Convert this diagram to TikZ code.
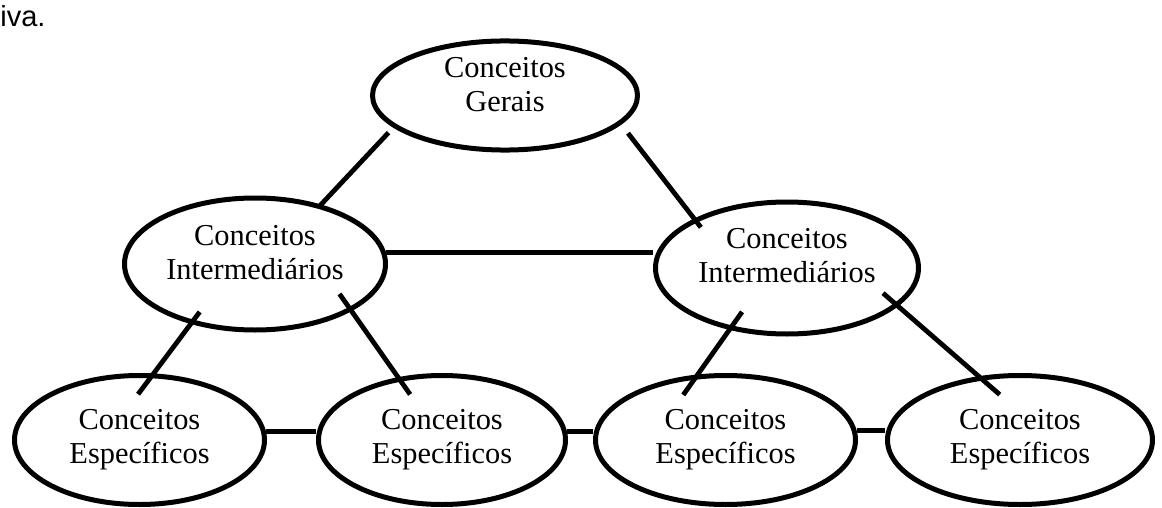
\documentclass[tikz,border=0pt]{standalone}
\usepackage{fontspec}
\setmainfont{Liberation Serif}
\newfontfamily\arialfont{Liberation Sans}
\usetikzlibrary{shapes.geometric}

\begin{document}
\begin{tikzpicture}[x=0.5pt,y=-0.5pt,
  conceito/.style={draw, ellipse, line width=2.5pt, inner sep=0pt, align=center,
    font=\fontsize{15.2}{17}\selectfont},
  ligacao/.style={line width=2.4pt}]
\useasboundingbox (0,0) rectangle (1162,508);

\node[anchor=base west, inner sep=0pt, font=\arialfont\fontsize{14.5}{17}\selectfont] (frase) at (0,27) {iva.};

\node[conceito, minimum width=132.5pt, minimum height=52pt, text depth=11.5pt] (G) at (505,95.5) {Conceitos\\Gerais};
\node[conceito, minimum width=130.5pt, minimum height=66pt, text depth=11.5pt] (IL) at (255,264) {Conceitos\\Intermediários};
\node[conceito, minimum width=131.5pt, minimum height=66pt, text depth=13pt] (IR) at (787,268) {Conceitos\\Intermediários};
\node[conceito, minimum width=125pt, minimum height=64.5pt] (B1) at (139.5,440) {Conceitos\\Específicos};
\node[conceito, minimum width=123.5pt, minimum height=64.5pt] (B2) at (442,440) {Conceitos\\Específicos};
\node[conceito, minimum width=130pt, minimum height=64.5pt] (B3) at (725.5,440) {Conceitos\\Específicos};
\node[conceito, minimum width=132.5pt, minimum height=64.5pt] (B4) at (1020,440) {Conceitos\\Específicos};

\begin{scope}[ligacao]
  \draw[shorten <=3.5pt, shorten >=-2pt] (G.196) -- (IL.42);
  \draw[shorten <=5.5pt, shorten >=-5.5pt] (G.346) -- (IR.152);
  \draw (IL.5) -- (IL.5 -| IR.west);
  \draw[shorten <=-7.5pt, shorten >=-13pt] (IL.223) -- (B1.78);
  \draw[shorten <=-10.5pt, shorten >=-10.5pt] (IL.334) -- (B2.125);
  \draw[shorten <=-11pt, shorten >=-12.5pt] (IR.227) -- (B3.113);
  \draw[shorten <=-10pt, shorten >=-14pt] (IR.341) -- (B4.123);
  \draw (B1.4) -- (B1.4 -| B2.west);
  \draw (B2.4) -- (B2.4 -| B3.west);
  \draw (B3.4) -- (B3.4 -| B4.west);
\end{scope}
\end{tikzpicture}
\end{document}
